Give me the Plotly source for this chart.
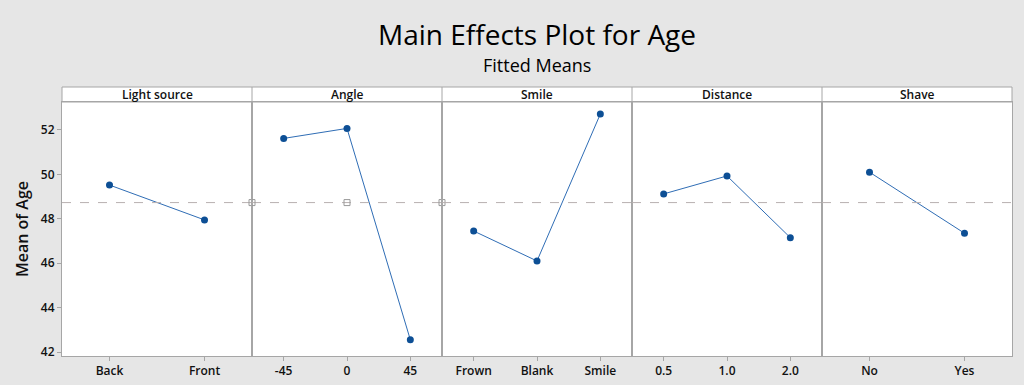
import plotly.graph_objects as go
from plotly.subplots import make_subplots

factors = ["Light source", "Angle", "Smile", "Distance", "Shave"]
levels = [
    ["Back", "Front"],
    ["-45", "0", "45"],
    ["Frown", "Blank", "Smile"],
    ["0.5", "1.0", "2.0"],
    ["No", "Yes"],
]
means = [
    [49.52, 47.95],
    [51.62, 52.07, 42.55],
    [47.45, 46.10, 52.72],
    [49.12, 49.93, 47.15],
    [50.10, 47.35],
]
overall_mean = 48.73
y_ticks = [42, 44, 46, 48, 50, 52]

W, H = 1024, 385
ml, mr, mt, mb = 62, 12, 102, 29
plot_h = H - mt - mb
hdr = 15 / plot_h

FONT = "Open Sans, Noto Sans, DejaVu Sans, sans-serif"
GRID = "#a6a6a6"
LINE = "#2f6db5"
MARK = "#0d4f95"
TXT = "#111111"

fig = make_subplots(rows=1, cols=5, shared_yaxes=True, horizontal_spacing=0)

for i, (lv, mv) in enumerate(zip(levels, means)):
    c = i + 1
    fig.add_trace(go.Scatter(
        x=list(range(len(lv))), y=mv, mode="lines+markers",
        line=dict(color=LINE, width=1),
        marker=dict(color=MARK, size=7),
        showlegend=False, hoverinfo="x+y"), row=1, col=c)
    fig.add_trace(go.Scatter(
        x=[-0.5, len(lv) - 0.5], y=[overall_mean, overall_mean], mode="lines",
        line=dict(color="#b8b0b0", width=1, dash="dash"),
        showlegend=False, hoverinfo="skip"), row=1, col=c)
    fig.update_xaxes(
        row=1, col=c, range=[-0.5, len(lv) - 0.5], automargin=False,
        tickmode="array", tickvals=list(range(len(lv))), ticktext=lv,
        ticks="outside", ticklen=4, tickcolor=GRID,
        showline=True, mirror=True, linecolor=GRID, linewidth=1,
        showgrid=False, zeroline=False,
        tickfont=dict(family=FONT, size=12, color=TXT, weight=600))
    fig.update_yaxes(
        row=1, col=c, range=[41.82, 53.26], automargin=False,
        tickmode="array", tickvals=y_ticks,
        ticks="outside" if c == 1 else "", ticklen=4, tickcolor=GRID,
        showticklabels=(c == 1),
        showline=True, mirror=True, linecolor=GRID, linewidth=1,
        showgrid=False, zeroline=False,
        tickfont=dict(family=FONT, size=12, color=TXT, weight=600))

# small open-square handles on the reference line (as in the reference)
fig.add_trace(go.Scatter(
    x=[-0.5, 1, 2.5], y=[overall_mean] * 3, mode="markers",
    marker=dict(symbol="square-open", size=6, color="#9a9a9a", line=dict(width=1)),
    cliponaxis=False, showlegend=False, hoverinfo="skip"), row=1, col=2)

fig.update_yaxes(row=1, col=1, title=dict(
    text="Mean of Age", font=dict(family=FONT, size=16, color=TXT, weight=600), standoff=8))

# header strip
fig.add_shape(type="rect", xref="paper", yref="paper", x0=0, x1=1, y0=1, y1=1 + hdr,
              fillcolor="white", line=dict(color=GRID, width=1), layer="below")
for i, f in enumerate(factors):
    x0 = i / 5
    if i > 0:
        fig.add_shape(type="line", xref="paper", yref="paper", x0=x0, x1=x0,
                      y0=1, y1=1 + hdr, line=dict(color=GRID, width=1))
    fig.add_annotation(xref="paper", yref="paper", x=x0 + 0.1, y=1 + hdr / 2,
                       text=f, showarrow=False, yanchor="middle", xanchor="center",
                       font=dict(family=FONT, size=12, color=TXT, weight=600))

fig.add_annotation(xref="paper", yref="paper", x=0.5, y=1 + (mt - 34) / plot_h,
                   text="Main Effects Plot for Age", showarrow=False, yanchor="middle",
                   xanchor="center", font=dict(family=FONT, size=28, color="#000000", weight=500))
fig.add_annotation(xref="paper", yref="paper", x=0.5, y=1 + (mt - 65) / plot_h,
                   text="Fitted Means", showarrow=False, yanchor="middle",
                   xanchor="center", font=dict(family=FONT, size=18, color="#000000", weight=500))

fig.update_layout(
    width=W, height=H,
    margin=dict(l=ml, r=mr, t=mt, b=mb),
    paper_bgcolor="#e6e6e6", plot_bgcolor="white",
    font=dict(family=FONT),
)

fig.write_html("out.html", config={"displayModeBar": False},
               post_script="document.body.style.margin='0';document.body.style.overflow='hidden';")
